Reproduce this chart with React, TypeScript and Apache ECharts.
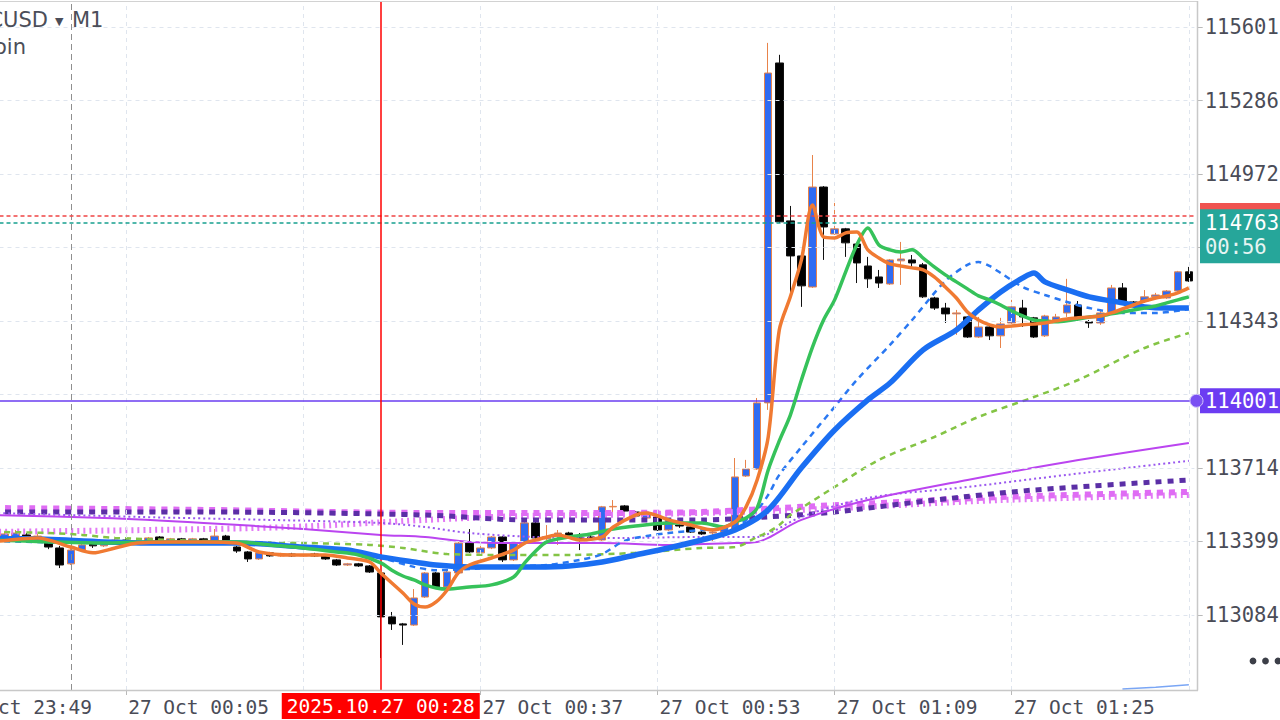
import { useEffect, useRef } from "react";
import * as echarts from "echarts";

const FONT = "DejaVu Sans";
const AXIS_FONT = "DejaVu Sans Mono";
const AXIS_TEXT = "#4a4c57";

// ---------- categories (1-minute bars) ----------
const FIRST_MINUTE = 23 * 60 + 49; // 23:49
const BAR_COUNT = 113;
const CANDLE_START = 4; // first drawn candle: 23:53
const K_OFFSET = 16; // minute offset 0 = 00:05
function timeAt(i: number) {
  const t = (FIRST_MINUTE + i) % 1440;
  return String(Math.floor(t / 60)).padStart(2, "0") + ":" + String(t % 60).padStart(2, "0");
}
const CATEGORIES = Array.from({ length: BAR_COUNT }, (_, i) => timeAt(i));

// ---------- axis ticks ----------
const Y_TICKS = [113084, 113399, 113714, 114028, 114343, 114657, 114972, 115286, 115601];
// labels hidden behind the price boxes are not shown
const Y_LABELS = [113084, 113399, 113714, 114343, 114972, 115286, 115601];
const Y_MIN = 112763;
const Y_MAX = 115708;
const X_LABEL_TIMES = ["23:49", "00:05", "00:37", "00:53", "01:09", "01:25"];
const X_GRID_TIMES = ["23:49", "00:05", "00:21", "00:37", "00:53", "01:09", "01:25", "01:41"];
const SESSION_SEPARATOR = "00:00";
const CROSSHAIR_TIME = "00:28";
const CROSSHAIR_LABEL = "2025.10.27 00:28";
const BID = 114763;
const ASK = 114792;
const LEVEL = 114001;
const COUNTDOWN = "00:56";
const SYMBOL = "BTCUSD";
const SYMBOL_NAME = "Bitcoin";
const TIMEFRAME = "M1";

// ---------- candles [open, close, low, high], 23:53 .. 01:41 ----------
const CANDLES: number[][] = [
  [113431, 113414, 113405, 113444], [113414, 113431, 113405, 113440], [113418, 113435, 113410, 113448],
  [113427, 113410, 113401, 113435], [113410, 113422, 113401, 113431], [113392, 113375, 113366, 113397],
  [113371, 113298, 113285, 113380], [113303, 113362, 113298, 113371], [113362, 113384, 113358, 113392],
  [113392, 113380, 113371, 113397], [113380, 113397, 113375, 113405], [113397, 113405, 113392, 113410],
  [113405, 113392, 113384, 113410], [113392, 113401, 113388, 113405], [113397, 113414, 113392, 113418],
  [113418, 113401, 113397, 113422], [113401, 113410, 113397, 113414], [113410, 113403, 113399, 113414],
  [113403, 113410, 113399, 113414], [113410, 113401, 113397, 113414], [113401, 113422, 113397, 113452],
  [113422, 113401, 113397, 113427], [113375, 113358, 113350, 113380], [113354, 113324, 113311, 113358],
  [113324, 113350, 113320, 113354], [113350, 113337, 113333, 113354], [113337, 113345, 113333, 113350],
  [113345, 113337, 113333, 113350], [113337, 113341, 113333, 113345], [113345, 113337, 113333, 113350],
  [113337, 113324, 113320, 113341], [113320, 113298, 113294, 113324], [113298, 113303, 113294, 113307],
  [113303, 113294, 113290, 113307], [113294, 113268, 113264, 113298], [113264, 113076, 112900, 113268],
  [113076, 113046, 113020, 113097], [113046, 113041, 112956, 113050], [113041, 113157, 113037, 113195],
  [113161, 113264, 113157, 113268], [113264, 113204, 113200, 113268], [113204, 113268, 113200, 113273],
  [113264, 113392, 113260, 113397], [113392, 113354, 113350, 113452], [113350, 113371, 113345, 113401],
  [113371, 113418, 113366, 113422], [113418, 113320, 113311, 113422], [113320, 113392, 113315, 113397],
  [113392, 113478, 113388, 113482], [113478, 113414, 113410, 113482], [113410, 113418, 113405, 113469],
  [113422, 113435, 113384, 113448], [113435, 113414, 113410, 113440], [113414, 113410, 113362, 113435],
  [113418, 113414, 113401, 113431], [113405, 113547, 113401, 113551], [113547, 113549, 113521, 113576],
  [113551, 113529, 113525, 113555], [113525, 113508, 113504, 113529], [113499, 113521, 113495, 113525],
  [113504, 113448, 113444, 113508], [113448, 113482, 113444, 113487], [113469, 113465, 113457, 113474],
  [113461, 113439, 113435, 113465], [113439, 113431, 113427, 113444], [113435, 113439, 113397, 113444],
  [113439, 113461, 113435, 113465], [113448, 113675, 113444, 113756], [113679, 113709, 113675, 113748],
  [113709, 113992, 113705, 114013], [113992, 115404, 113962, 115533], [115447, 114767, 114762, 115482],
  [114771, 114621, 114454, 114835], [114621, 114493, 114403, 114625], [114488, 114916, 114484, 115053],
  [114916, 114745, 114604, 114920], [114715, 114737, 114711, 114848], [114737, 114677, 114617, 114741],
  [114672, 114591, 114505, 114677], [114578, 114523, 114484, 114617], [114531, 114505, 114484, 114561],
  [114501, 114604, 114497, 114608], [114600, 114608, 114497, 114681], [114604, 114591, 114574, 114625],
  [114583, 114446, 114441, 114591], [114441, 114398, 114390, 114446], [114398, 114373, 114334, 114420],
  [114373, 114377, 114283, 114390], [114360, 114274, 114270, 114364], [114274, 114317, 114270, 114360],
  [114317, 114279, 114261, 114322], [114279, 114330, 114227, 114356], [114334, 114403, 114330, 114433],
  [114398, 114360, 114317, 114433], [114356, 114274, 114270, 114360], [114279, 114364, 114274, 114369],
  [114347, 114360, 114339, 114373], [114377, 114411, 114360, 114523], [114411, 114360, 114356, 114428],
  [114339, 114334, 114313, 114347], [114334, 114377, 114326, 114394], [114381, 114484, 114377, 114497],
  [114484, 114424, 114420, 114505], [114424, 114420, 114411, 114428], [114428, 114446, 114420, 114475],
  [114446, 114454, 114441, 114463], [114441, 114471, 114437, 114475], [114471, 114553, 114467, 114557],
  [114553, 114514, 114510, 114574],
];

// ---------- moving averages: [minute offset from 00:05, value] ----------
const MA_ORANGE = [
  [-12, 113397], [-8, 113414], [-5, 113375], [-3, 113350], [-1, 113371], [1, 113392], [4, 113397], [7, 113397],
  [10, 113392], [12, 113354], [15, 113341], [18, 113341], [20, 113328], [22, 113311], [23, 113264], [25, 113178],
  [26, 113131], [27, 113118], [28, 113140], [29, 113191], [30, 113264], [31, 113298], [33, 113328], [35, 113362],
  [36, 113392], [37, 113405], [39, 113427], [41, 113405], [43, 113418], [44, 113461], [46, 113512], [47, 113521],
  [49, 113491], [51, 113469], [53, 113448], [55, 113482], [56, 113547], [57, 113662], [58, 113846], [59, 114304],
  [60, 114446], [61, 114604], [62, 114839], [63, 114702], [64, 114698], [65, 114720], [66, 114724], [67, 114647],
  [68, 114612], [69, 114587], [70, 114578], [71, 114570], [72, 114561], [73, 114531], [74, 114488], [75, 114441],
  [76, 114381], [77, 114347], [78, 114326], [79, 114317], [80, 114321], [81, 114326], [82, 114330], [83, 114334],
  [84, 114343], [85, 114351], [86, 114356], [87, 114360], [88, 114364], [89, 114377], [90, 114394], [91, 114411],
  [92, 114428], [93, 114441], [94, 114450], [95, 114463], [96, 114484],
];
const MA_GREEN = [
  [-12, 113405], [-7, 113397], [-2, 113392], [2, 113397], [7, 113397], [10, 113397], [13, 113384], [16, 113371],
  [19, 113354], [21, 113341], [23, 113307], [24, 113276], [25, 113251], [26, 113234], [27, 113213], [28, 113200],
  [29, 113195], [31, 113204], [33, 113213], [35, 113247], [36, 113307], [37, 113358], [38, 113397], [40, 113418],
  [42, 113431], [44, 113452], [46, 113465], [49, 113478], [52, 113478], [54, 113461], [55, 113482], [56, 113499],
  [57, 113542], [58, 113705], [59, 113829], [60, 113940], [61, 114090], [62, 114231], [63, 114347], [64, 114433],
  [65, 114553], [66, 114668], [67, 114741], [68, 114668], [69, 114647], [70, 114638], [71, 114647], [72, 114612],
  [73, 114574], [74, 114540], [75, 114510], [76, 114480], [77, 114450], [78, 114433], [79, 114411], [80, 114386],
  [81, 114364], [82, 114347], [83, 114343], [84, 114339], [85, 114343], [86, 114351], [87, 114360], [88, 114364],
  [89, 114373], [90, 114381], [91, 114390], [92, 114398], [93, 114407], [94, 114420], [95, 114433], [96, 114446],
];
const MA_BLUE = [
  [-12, 113410], [-9, 113410], [-2, 113397], [4, 113392], [10, 113392], [16, 113375], [20, 113362], [23, 113333],
  [26, 113311], [28, 113298], [31, 113290], [34, 113290], [37, 113290], [40, 113294], [43, 113311], [46, 113341],
  [49, 113371], [52, 113405], [55, 113448], [58, 113534], [61, 113714], [64, 113876], [67, 114005], [69, 114077],
  [72, 114219], [75, 114304], [77, 114390], [79, 114467], [81, 114527], [82, 114548], [83, 114510], [85, 114476],
  [87, 114446], [90, 114420], [92, 114403], [94, 114398], [96, 114398],
];
const MA_BLUE_DASHED = [
  [-12, 113401], [-2, 113392], [7, 113392], [16, 113371], [23, 113328], [26, 113290], [28, 113276], [31, 113281],
  [35, 113294], [38, 113298], [41, 113320], [43, 113345], [45, 113401], [47, 113422], [49, 113435], [52, 113448],
  [55, 113461], [57, 113534], [58, 113598], [59, 113684], [61, 113803], [64, 113975], [66, 114090], [69, 114240],
  [71, 114347], [74, 114514], [76, 114583], [77, 114595], [78, 114578], [79, 114548], [81, 114488], [83, 114454],
  [85, 114424], [87, 114398], [90, 114377], [93, 114377], [96, 114394],
];
const MA_GREEN_DASHED = [
  [-12, 113440], [-7, 113435], [-4, 113427], [-1, 113414], [10, 113397], [16, 113392], [22, 113384], [25, 113371],
  [29, 113345], [35, 113341], [40, 113341], [46, 113350], [52, 113371], [55, 113375], [57, 113418], [58, 113439],
  [59, 113469], [60, 113512], [61, 113542], [64, 113632], [68, 113748], [73, 113846], [77, 113932], [82, 114017],
  [86, 114090], [92, 114227], [96, 114291],
];
const MA_MAGENTA = [
  [-12, 113512], [-2, 113499], [7, 113478], [16, 113452], [23, 113427], [27, 113418], [31, 113397], [37, 113392],
  [43, 113392], [49, 113384], [55, 113392], [57, 113397], [58, 113414], [61, 113491], [67, 113576], [76, 113662],
  [85, 113739], [96, 113820],
];
const MA_PURPLE_DOTTED = [
  [-12, 113521], [1, 113504], [13, 113491], [23, 113478], [27, 113461], [31, 113435], [37, 113418], [45, 113414],
  [52, 113418], [57, 113418], [58, 113431], [61, 113504], [67, 113585], [76, 113632], [85, 113684], [96, 113744],
];
const MA_DARK_PURPLE = [
  [-12, 113525], [7, 113525], [27, 113512], [36, 113491], [52, 113491], [58, 113504], [64, 113525], [73, 113576],
  [82, 113619], [96, 113662],
];
const MA_PINK = [
  [-12, 113542], [7, 113534], [27, 113521], [43, 113521], [52, 113525], [61, 113547], [70, 113568], [79, 113589],
  [96, 113611],
];
const MA_PINK_TICKS = [
  [-12, 113440], [2, 113448], [15, 113461], [27, 113491], [36, 113508], [43, 113512], [52, 113521], [61, 113534],
  [79, 113576], [96, 113598],
];
const SUB_INDICATOR = [[90, 0.15], [93, 0.4], [96, 0.75]];

function toSeriesData(points: number[][]) {
  return points.map(([k, v]) => [k + K_OFFSET, v]);
}

function maSeries(name: string, points: number[][], color: string, width: number, type: any, z: number) {
  return {
    name,
    type: "line",
    data: toSeriesData(points),
    showSymbol: false,
    symbol: "none",
    smooth: 0.3,
    z,
    silent: true,
    lineStyle: { color, width, type, cap: "butt" },
  };
}

export default function App() {
  const ref = useRef<HTMLDivElement>(null);

  useEffect(() => {
    const el = ref.current;
    if (!el) return;
    const chart = echarts.init(el, undefined, { renderer: "svg", width: 1280, height: 720 });

    const candleData = CATEGORIES.map((_, i) => {
      const c = CANDLES[i - CANDLE_START];
      return c ? c : "-";
    });

    const option: any = {
      animation: false,
      backgroundColor: "#ffffff",
      textStyle: { fontFamily: FONT },
      grid: [{ left: -56.5, top: 2, width: 1250.9, height: 688, containLabel: false, outerBoundsMode: "none" }],
      xAxis: [
        {
          type: "category",
          data: CATEGORIES,
          boundaryGap: true,
          axisLine: { show: false },
          axisTick: {
            show: true,
            alignWithLabel: true,
            interval: (_i: number, v: string) => X_LABEL_TIMES.includes(v),
            length: 5,
            lineStyle: { color: "#b9b9b9" },
          },
          axisLabel: {
            interval: (_i: number, v: string) => X_LABEL_TIMES.includes(v),
            formatter: (v: string) => (v.startsWith("23") ? "26 Oct " : "27 Oct ") + v,
            align: "left",
            margin: 7,
            padding: [0, 0, 0, 2],
            color: AXIS_TEXT,
            fontSize: 19.5,
            fontFamily: AXIS_FONT,
            hideOverlap: false,
          },
          splitLine: { show: false },
        },
      ],
      yAxis: [
        {
          type: "value",
          position: "right",
          min: Y_MIN,
          max: Y_MAX,
          offset: 3.3,
          scale: true,
          axisLine: { show: false },
          axisTick: { show: true, customValues: Y_TICKS, length: 5, lineStyle: { color: "#b9b9b9" } },
          axisLabel: {
            customValues: Y_LABELS,
            margin: 7,
            color: AXIS_TEXT,
            fontSize: 20.5,
            fontFamily: AXIS_FONT,
            formatter: (v: number) => String(Math.round(v)),
          },
          splitLine: { show: false },
        },
        { type: "value", min: 0, max: 100, show: false },
      ],
      series: [
        {
          name: "grid",
          type: "line",
          data: [],
          z: 0,
          silent: true,
          markLine: {
            silent: true,
            symbol: ["none", "none"],
            label: { show: false },
            lineStyle: { color: "#dfe5ee", type: [4, 4], width: 1 },
            data: [
              ...Y_TICKS.map((v) => ({ yAxis: v })),
              ...X_GRID_TIMES.map((t) => ({ xAxis: t })),
            ],
          },
        },
        {
          name: "separator",
          type: "line",
          data: [],
          z: 1,
          silent: true,
          markLine: {
            silent: true,
            symbol: ["none", "none"],
            label: { show: false },
            lineStyle: { color: "#8f8f8f", type: [6, 4], width: 1 },
            data: [{ xAxis: SESSION_SEPARATOR }],
          },
        },
        {
          name: "price",
          type: "candlestick",
          data: candleData,
          barWidth: 8,
          z: 2,
          silent: true,
          itemStyle: {
            color: "#2f6bf2",
            color0: "#000000",
            borderColor: "#e8834a",
            borderColor0: "#111111",
            borderWidth: 1,
          },
        },
        maSeries("pinkTicks", MA_PINK_TICKS, "#e27af5", 6, [2, 4], 3),
        maSeries("pink", MA_PINK, "#df6cf4", 6, [6, 6], 3),
        maSeries("darkPurple", MA_DARK_PURPLE, "#5b2fa6", 5, [6, 6], 3),
        maSeries("purpleDotted", MA_PURPLE_DOTTED, "#9a58ef", 2, [2, 3], 3),
        maSeries("magenta", MA_MAGENTA, "#bb45f0", 2, "solid", 3),
        maSeries("greenDashed", MA_GREEN_DASHED, "#84c445", 2.5, [6, 5], 4),
        maSeries("blueDashed", MA_BLUE_DASHED, "#2a78f2", 2.5, [6, 5], 4),
        maSeries("blue", MA_BLUE, "#1a6ef2", 5.5, "solid", 5),
        maSeries("green", MA_GREEN, "#36c25a", 3.5, "solid", 6),
        maSeries("orange", MA_ORANGE, "#f07a32", 3.5, "solid", 7),
        {
          name: "sub",
          type: "line",
          yAxisIndex: 1,
          data: toSeriesData(SUB_INDICATOR),
          showSymbol: false,
          symbol: "none",
          silent: true,
          z: 3,
          lineStyle: { color: "#7aa6f5", width: 1.5 },
        },
        {
          name: "levels",
          type: "line",
          data: [],
          z: 10,
          silent: true,
          markLine: {
            silent: true,
            symbol: ["none", "none"],
            label: { show: false },
            data: [
              { yAxis: ASK, lineStyle: { color: "#ef4444", type: [4, 3], width: 1.5 } },
              { yAxis: BID, lineStyle: { color: "#17a08f", type: [4, 3], width: 1.5 } },
              { yAxis: LEVEL, lineStyle: { color: "#6a3cf0", type: "solid", width: 1.5 } },
              { xAxis: CROSSHAIR_TIME, lineStyle: { color: "#ff0000", type: "solid", width: 1.5 } },
            ],
          },
        },
      ],
    };

    chart.setOption(option);

    const xC = chart.convertToPixel({ xAxisIndex: 0 }, CROSSHAIR_TIME) as number;
    const yAsk = chart.convertToPixel({ yAxisIndex: 0 }, ASK) as number;
    const yBid = chart.convertToPixel({ yAxisIndex: 0 }, BID) as number;
    const yLvl = chart.convertToPixel({ yAxisIndex: 0 }, LEVEL) as number;

    const txt = (text: string, x: number, y: number, size: number, fill: string, align = "left", family = AXIS_FONT) => ({
      type: "text",
      x,
      y,
      z: 101,
      silent: true,
      style: { text, fill, fontSize: size, fontFamily: family, align, verticalAlign: "middle" },
    });

    chart.setOption({
      graphic: [
        // frame
        { type: "line", z: 50, silent: true, shape: { x1: 0, y1: 1.5, x2: 1198, y2: 1.5 }, style: { stroke: "#d2d2d2", lineWidth: 1 } },
        { type: "line", z: 50, silent: true, shape: { x1: 1197.5, y1: 1, x2: 1197.5, y2: 690.5 }, style: { stroke: "#c8c8c8", lineWidth: 1.5 } },
        { type: "line", z: 50, silent: true, shape: { x1: 0, y1: 690.5, x2: 1198, y2: 690.5 }, style: { stroke: "#c8c8c8", lineWidth: 1.5 } },
        // symbol header
        txt(SYMBOL, 48, 20, 21, "#4b4e59", "right", FONT),
        txt("▼", 55, 21, 11, "#4b4e59", "left", FONT),
        txt(TIMEFRAME, 72, 20, 21, "#4b4e59", "left", FONT),
        txt(SYMBOL_NAME, 26, 47, 21, "#4b4e59", "right", FONT),
        // more dots
        { type: "circle", z: 100, silent: true, shape: { cx: 1253, cy: 661, r: 3.4 }, style: { fill: "#3c3f48" } },
        { type: "circle", z: 100, silent: true, shape: { cx: 1265.5, cy: 661, r: 3.4 }, style: { fill: "#3c3f48" } },
        { type: "circle", z: 100, silent: true, shape: { cx: 1278, cy: 661, r: 3.4 }, style: { fill: "#3c3f48" } },
        // crosshair time box
        { type: "rect", z: 100, silent: true, shape: { x: xC - 99, y: 693, width: 198, height: 26 }, style: { fill: "#ff0000" } },
        txt(CROSSHAIR_LABEL, xC, 706.5, 19.5, "#ffffff", "center"),
        // ask strip (mostly under the bid box)
        { type: "rect", z: 100, silent: true, shape: { x: 1200, y: yAsk - 13, width: 90, height: 26 }, style: { fill: "#ef5350" } },
        // bid box
        { type: "rect", z: 102, silent: true, shape: { x: 1200, y: yBid - 13.5, width: 90, height: 54 }, style: { fill: "#26a69a" } },
        { ...txt(String(BID), 1205, yBid + 0.5, 20.5, "#ffffff"), z: 103 },
        { ...txt(COUNTDOWN, 1205, yBid + 24, 20.5, "#e6f5f3"), z: 103 },
        // level box
        { type: "rect", z: 100, silent: true, shape: { x: 1200, y: yLvl - 12.5, width: 90, height: 25 }, style: { fill: "#6c3cf2" } },
        txt(String(LEVEL), 1205, yLvl, 20.5, "#ffffff"),
        { type: "circle", z: 101, silent: true, shape: { cx: 1196.5, cy: yLvl, r: 6.5 }, style: { fill: "#7a50f2", stroke: "#d6c9fb", lineWidth: 1 } },
      ],
    });

    return () => chart.dispose();
  }, []);

  return (
    <div
      ref={ref}
      style={{ position: "fixed", left: 0, top: 0, width: 1280, height: 720, background: "#ffffff" }}
    />
  );
}
